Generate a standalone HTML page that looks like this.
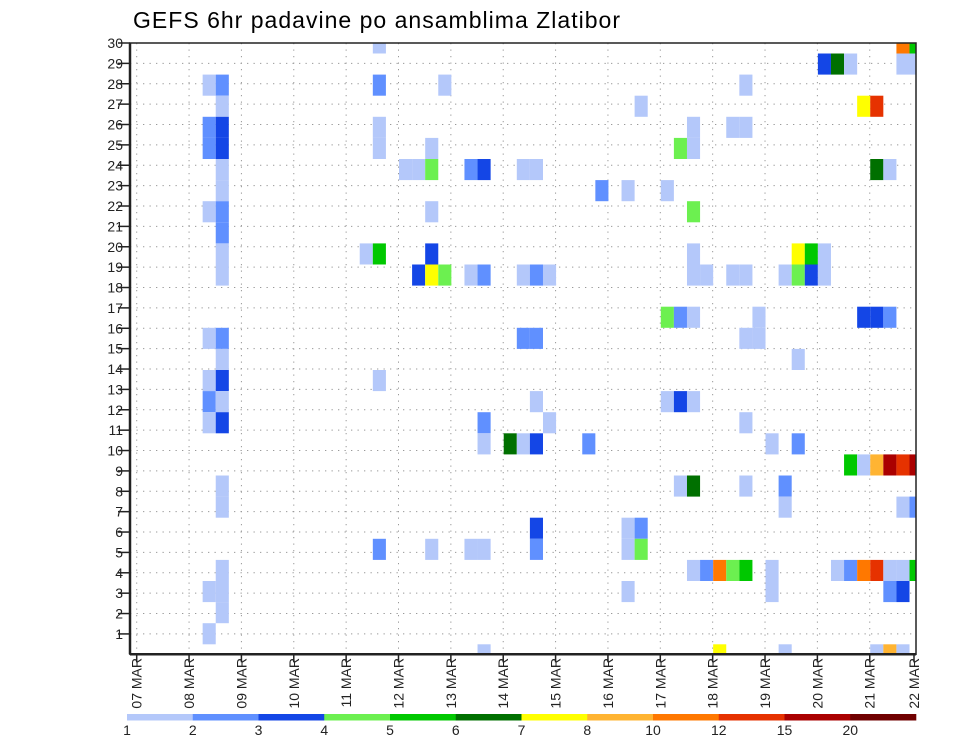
<!DOCTYPE html>
<html><head><meta charset="utf-8"><style>
html,body{margin:0;padding:0;background:#fff;}
svg{display:block;font-family:"Liberation Sans",sans-serif;}
</style></head><body>
<svg id="chart" width="960" height="742" viewBox="0 0 960 742">
<text x="133" y="28" font-size="23" textLength="487" fill="#000">GEFS 6hr padavine po ansamblima Zlatibor</text>
<g id="grid"></g>
<g id="cells"></g>
<g id="axes"></g>
<g id="cbar"></g>
</svg>
<script>
// ---- data ----
const dayLabels = ["07","08","09","10","11","12","13","14","15","16","17","18","19","20","21","22"];
const memberLabels = [1,2,3,4,5,6,7,8,9,10,11,12,13,14,15,16,17,18,19,20,21,22,23,24,25,26,27,28,29,30];
const levelLabels = ["1","2","3","4","5","6","7","8","10","12","15","20"];
const levelColors = ["#b4c8fa","#6090ff","#1446e6","#6cf050","#00c800","#007000","#ffff00","#ffb432","#ff7800","#e63200","#aa0000","#700000"];
// each cell: member row / 6-hour step / level index (one line per member row)
const cellRows = [
 29,29,29,
 28,28,28,28,28,
 27,27,27,27,27,
 26,26,26,26,
 25,25,25,25,25,25,
 24,24,24,24,24,24,
 23,23,23,23,23,23,23,23,23,23,
 22,22,22,22,
 21,21,21,21,
 20,
 19,19,19,19,19,19,19,19,
 18,18,18,18,18,18,18,18,18,18,18,18,18,18,18,18,18,
 16,16,16,16,16,16,16,
 15,15,15,15,15,15,
 14,14,
 13,13,13,
 12,12,12,12,12,12,
 11,11,11,11,11,
 10,10,10,10,10,10,10,
 9,9,9,9,9,9,
 8,8,8,8,8,
 7,7,7,7,
 6,6,6,
 5,5,5,5,5,5,5,
 4,4,4,4,4,4,4,4,4,4,4,4,4,4,
 3,3,3,3,3,3,
 2,
 1,
 0,0,0,0,0,0];
const cellSteps = [
 18,58,59,
 52,53,54,58,59,
 5,6,18,23,46,
 6,38,55,56,
 5,6,18,42,45,46,
 5,6,18,22,41,42,
 6,20,21,22,25,26,29,30,56,57,
 6,35,37,40,
 5,6,22,42,
 6,
 6,17,18,22,42,50,51,52,
 6,21,22,23,25,26,29,30,31,42,43,45,46,49,50,51,52,
 40,41,42,47,55,56,57,
 5,6,29,30,46,47,
 6,50,
 5,6,18,
 5,6,30,40,41,42,
 5,6,26,31,46,
 26,28,29,30,34,48,50,
 54,55,56,57,58,59,
 6,41,42,46,49,
 6,49,58,59,
 30,37,38,
 18,22,25,26,30,37,38,
 6,42,43,44,45,46,48,53,54,55,56,57,58,59,
 5,6,37,48,57,58,
 6,
 5,
 26,44,49,56,57,58];
const cellLevels = [
 0,8,4,
 2,5,0,0,0,
 0,1,1,0,0,
 0,0,6,9,
 1,2,0,0,0,0,
 1,2,0,0,3,0,
 0,0,0,3,1,2,0,0,5,0,
 0,1,0,0,
 0,1,0,3,
 1,
 0,0,4,2,0,6,4,0,
 0,2,6,3,0,1,0,1,0,0,0,0,0,0,3,2,0,
 3,1,0,0,2,2,1,
 0,1,1,1,0,0,
 0,0,
 0,2,0,
 1,0,0,0,2,0,
 0,2,1,0,0,
 0,5,0,2,1,0,1,
 4,0,7,10,9,10,
 0,0,5,0,1,
 0,0,0,1,
 2,0,1,
 1,0,0,0,1,0,3,
 0,0,1,8,3,4,0,0,1,8,9,0,0,4,
 0,0,0,0,1,2,
 0,
 0,
 0,6,0,0,7,0];
// ---- geometry ----
const NS="http://www.w3.org/2000/svg";
const L=130, R=916, T=43, B=654.3;
const x0=136.7, dayW=52.36;
const xDay=d=>x0+d*dayW;
const xStep=s=>x0+s*dayW/4;
const cellH=21.1;
const yCellTop=m=>B-10-cellH*m;
const yMember=v=>B-(v)*(B-T)/30;
function mk(tag,attrs,parent){const e=document.createElementNS(NS,tag);for(const k in attrs)e.setAttribute(k,attrs[k]);parent.appendChild(e);return e;}
const grid=document.getElementById('grid'),cells=document.getElementById('cells'),axes=document.getElementById('axes'),cbar=document.getElementById('cbar');
const defs=mk('defs',{},document.getElementById('chart'));
const cp=mk('clipPath',{id:'plotclip'},defs);mk('rect',{x:L,y:T,width:R-L,height:B-T},cp);
cells.setAttribute('clip-path','url(#plotclip)');
memberLabels.forEach(v=>{const y=yMember(v);
 const ln=mk('line',{x1:L,x2:R,y1:y,y2:y,stroke:'#999','stroke-width':1,'stroke-dasharray':'1.3,5.2'},grid);
 
 });
dayLabels.forEach((d,i)=>{const x=Math.min(xDay(i),R);if(i===dayLabels.length-1)return;
 const ln=mk('line',{x1:x,x2:x,y1:T,y2:B,stroke:'#999','stroke-width':1,'stroke-dasharray':'1.3,5.2'},grid);
 
 });
for(let i=0;i<cellRows.length;i++){
 const r=mk('rect',{x:xStep(cellSteps[i])+0.5,y:yCellTop(cellRows[i]),width:dayW/4,height:cellH,fill:levelColors[cellLevels[i]]},cells);
 
 
}
mk('rect',{x:L,y:T,width:R-L,height:B-T,fill:'none',stroke:'#222','stroke-width':1.5},axes);
mk('line',{x1:L,x2:L,y1:T,y2:B,stroke:'#222','stroke-width':2.5},axes);
mk('line',{x1:L,x2:R,y1:B,y2:B,stroke:'#222','stroke-width':2.5},axes);
memberLabels.forEach(v=>{const y=yMember(v);
 mk('line',{x1:L-12,x2:L,y1:y,y2:y,stroke:'#222','stroke-width':1.5},axes);
 const t=mk('text',{x:L-7,y:y+5,'font-size':14,'text-anchor':'end',fill:'#222'},axes);
 t.textContent=v;
 
 });
dayLabels.forEach((d,i)=>{const x=Math.min(xDay(i),R-2);
 mk('line',{x1:x,x2:x,y1:B,y2:B+8,stroke:'#222','stroke-width':1.5},axes);
 const t=mk('text',{x:0,y:0,'font-size':14,'text-anchor':'end',fill:'#222',transform:`translate(${x+5},658) rotate(-90)`},axes);
 t.textContent=d+' MAR';
 
 });
const cbL=127,cbR=916,cbW=(cbR-cbL)/levelColors.length;
levelColors.forEach((c,i)=>{const r=mk('rect',{x:cbL+i*cbW,y:714,width:cbW+0.3,height:6.5,fill:c},cbar);
 
 });
levelLabels.forEach((l,i)=>{const t=mk('text',{x:cbL+i*cbW,y:735,'font-size':14,'text-anchor':'middle',fill:'#222'},cbar);
 t.textContent=l;
 
 });
</script>
</body></html>
